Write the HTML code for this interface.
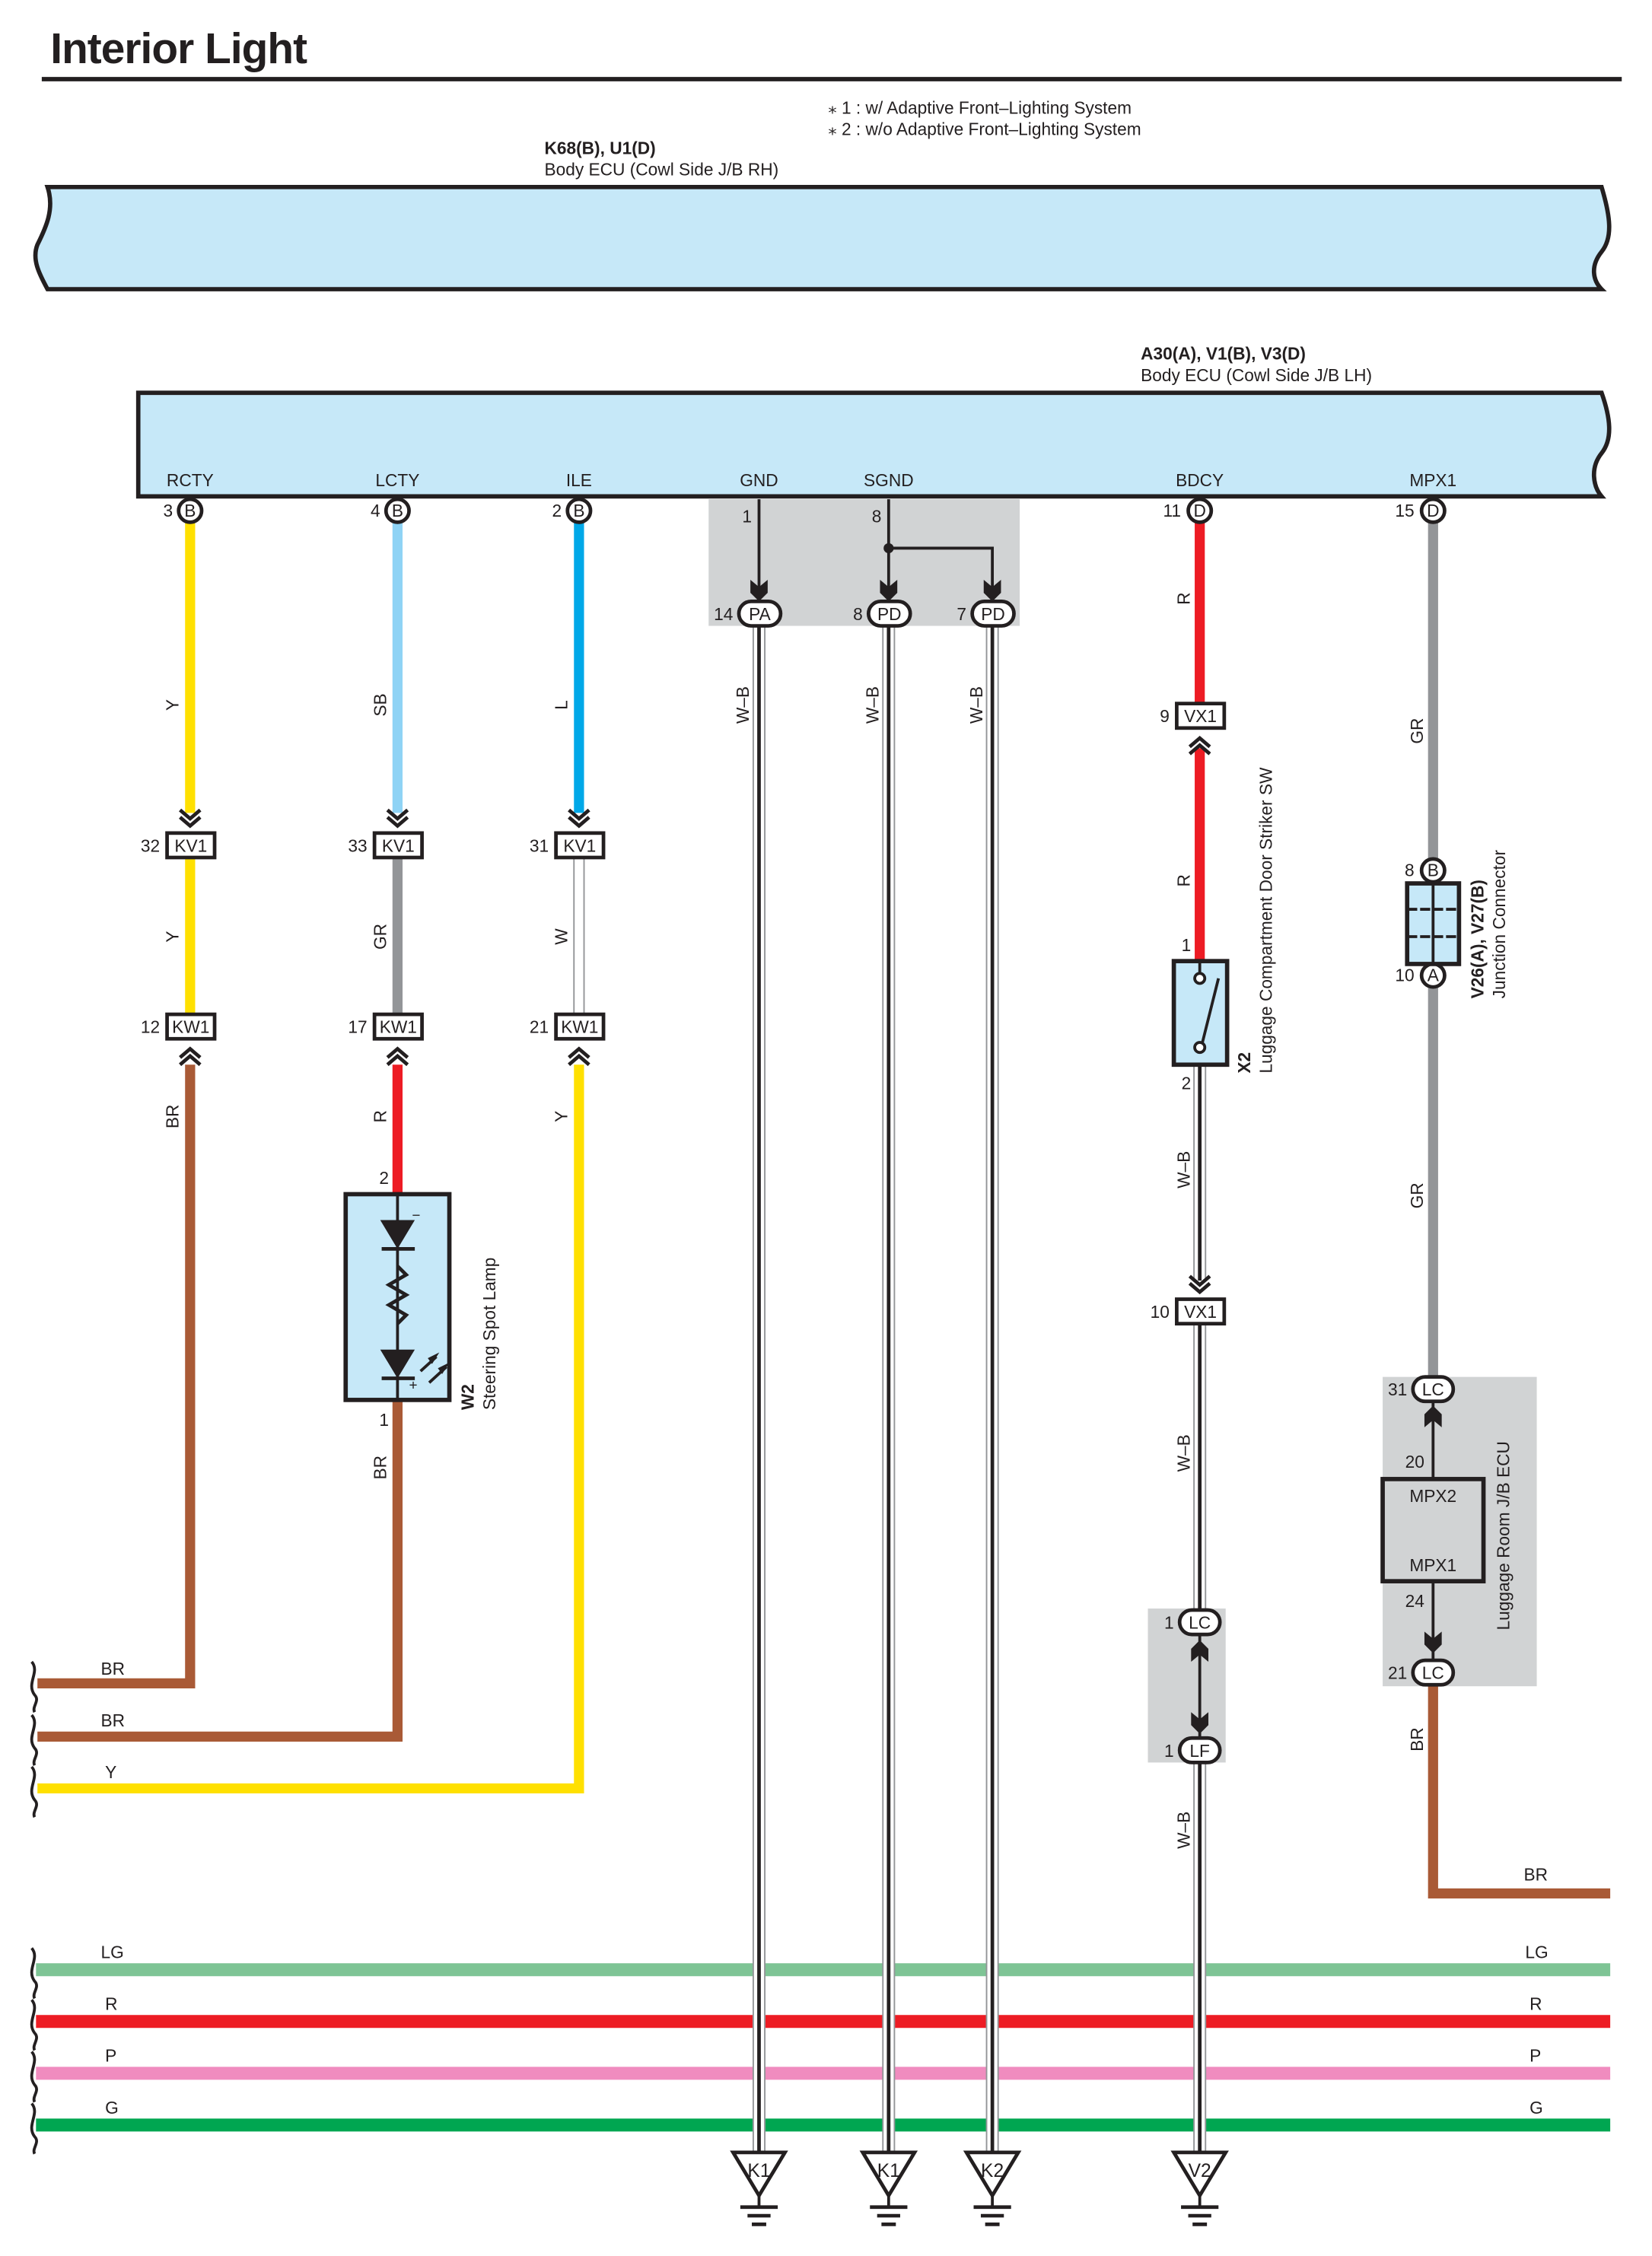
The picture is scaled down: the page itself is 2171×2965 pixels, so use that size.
<!DOCTYPE html>
<html><head><meta charset="utf-8"><style>
html,body{margin:0;padding:0;background:#fff}
svg{display:block}
text{font-family:"Liberation Sans",sans-serif;fill:#231f20}
</style></head><body>
<svg width="2171" height="2965" viewBox="0 0 1147 1568" preserveAspectRatio="none" xmlns="http://www.w3.org/2000/svg">
<defs>
<g id="chd"><polyline points="-7,-9 0,-3 7,-9" fill="none" stroke="#231f20" stroke-width="2.5"/><polyline points="-7,-4 0,2 7,-4" fill="none" stroke="#231f20" stroke-width="2.5"/></g>
<g id="chu"><polyline points="-7,9 0,3 7,9" fill="none" stroke="#231f20" stroke-width="2.5"/><polyline points="-7,4 0,-2 7,4" fill="none" stroke="#231f20" stroke-width="2.5"/></g>
<path id="fad" d="M-6,-9 L0,-4 L6,-9 L6,0 L0,6 L-6,0Z" fill="#231f20"/>
<path id="fau" d="M-6,9 L0,4 L6,9 L6,0 L0,-6 L-6,0Z" fill="#231f20"/>
<g id="gnd"><path d="M-18,0 L18,0 L0,30Z" fill="#fff" stroke="#231f20" stroke-width="2.5"/><line x1="0" y1="30" x2="0" y2="38" stroke="#231f20" stroke-width="2"/><line x1="-13" y1="38" x2="13" y2="38" stroke="#231f20" stroke-width="2.5"/><line x1="-8" y1="44" x2="8" y2="44" stroke="#231f20" stroke-width="2.5"/><line x1="-5" y1="50" x2="5" y2="50" stroke="#231f20" stroke-width="2.5"/></g>
</defs>

<text x="35" y="44" font-size="30" font-weight="bold" letter-spacing="-0.5">Interior Light</text>
<line x1="29" y1="55" x2="1126" y2="55" stroke="#231f20" stroke-width="3"/>
<text x="575" y="79" font-size="12">⁎ 1 : w/ Adaptive Front–Lighting System</text>
<text x="575" y="94" font-size="12">⁎ 2 : w/o Adaptive Front–Lighting System</text>
<text x="378" y="107" font-size="12" font-weight="bold">K68(B), U1(D)</text>
<text x="378" y="122" font-size="12">Body ECU (Cowl Side J/B RH)</text>

<path d="M33,130 L1112,130 C1118,150 1120,165 1112,175 C1104,185 1106,195 1112,201 L33,201 C27,190 22,180 26,170 C32,158 38,145 33,130Z" fill="#c6e8f8" stroke="#231f20" stroke-width="3"/>

<text x="792" y="250" font-size="12" font-weight="bold">A30(A), V1(B), V3(D)</text>
<text x="792" y="265" font-size="12">Body ECU (Cowl Side J/B LH)</text>
<path d="M96,273 L1112,273 C1118,290 1120,305 1112,315 C1104,325 1106,338 1112,345 L96,345Z" fill="#c6e8f8" stroke="#231f20" stroke-width="3"/>
<g font-size="12" text-anchor="middle">
<text x="132" y="338">RCTY</text><text x="276" y="338">LCTY</text><text x="402" y="338">ILE</text>
<text x="527" y="338">GND</text><text x="617" y="338">SGND</text><text x="833" y="338">BDCY</text><text x="995" y="338">MPX1</text>
</g>

<rect x="492" y="347" width="216" height="88" fill="#d1d3d4"/>
<rect x="797" y="1118" width="54" height="107" fill="#d1d3d4"/>
<rect x="960" y="957" width="107" height="215" fill="#d1d3d4"/>

<g stroke-width="7" fill="none">
<line x1="132" y1="363" x2="132" y2="565" stroke="#ffe000"/>
<line x1="132" y1="596" x2="132" y2="705" stroke="#ffe000"/>
<polyline points="132,740 132,1170 26,1170" stroke="#a95a36"/>
<line x1="276" y1="363" x2="276" y2="565" stroke="#8fd3f5"/>
<line x1="276" y1="596" x2="276" y2="705" stroke="#939598"/>
<line x1="276" y1="740" x2="276" y2="830" stroke="#ed1c24"/>
<polyline points="276,973 276,1207 26,1207" stroke="#a95a36"/>
<line x1="402" y1="363" x2="402" y2="565" stroke="#00a8e8"/>
<polyline points="402,740 402,1243 26,1243" stroke="#ffe000"/>
<line x1="833" y1="363" x2="833" y2="488" stroke="#ed1c24"/>
<line x1="833" y1="520" x2="833" y2="668" stroke="#ed1c24"/>
<line x1="995" y1="363" x2="995" y2="598" stroke="#939598"/>
<line x1="995" y1="686" x2="995" y2="957" stroke="#939598"/>
<polyline points="995,1170 995,1316 1118,1316" stroke="#a95a36"/>
</g>
<rect x="398.5" y="596" width="7" height="109" fill="#fff" stroke="#939598" stroke-width="1"/>

<g stroke-width="9">
<line x1="25" y1="1369" x2="1118" y2="1369" stroke="#7ec495"/>
<line x1="25" y1="1405" x2="1118" y2="1405" stroke="#ed1c24"/>
<line x1="25" y1="1441" x2="1118" y2="1441" stroke="#f08cbf"/>
<line x1="25" y1="1477" x2="1118" y2="1477" stroke="#00a651"/>
</g>
<g fill="none" stroke="#231f20" stroke-width="2">
<path d="M22,1155 C28,1162 18,1170 24,1178 C28,1182 22,1186 24,1190"/>
<path d="M22,1192 C28,1199 18,1207 24,1215 C28,1219 22,1223 24,1227"/>
<path d="M22,1228 C28,1235 18,1243 24,1251 C28,1255 22,1259 24,1263"/>
<path d="M22,1354 C28,1361 18,1369 24,1377 C28,1381 22,1385 24,1389"/>
<path d="M22,1390 C28,1397 18,1405 24,1413 C28,1417 22,1421 24,1425"/>
<path d="M22,1426 C28,1433 18,1441 24,1449 C28,1453 22,1457 24,1461"/>
<path d="M22,1462 C28,1469 18,1477 24,1485 C28,1489 22,1493 24,1497"/>
</g>
<g font-size="12">
<text x="70" y="1164">BR</text><text x="70" y="1200">BR</text><text x="73" y="1236">Y</text>
<text x="70" y="1361">LG</text><text x="73" y="1397">R</text><text x="73" y="1433">P</text><text x="73" y="1469">G</text>
<text x="1059" y="1361">LG</text><text x="1062" y="1397">R</text><text x="1062" y="1433">P</text><text x="1062" y="1469">G</text>
<text x="1058" y="1307">BR</text>
</g>

<g>
<g stroke="#939598" stroke-width="9"><line x1="527" y1="435" x2="527" y2="1496"/><line x1="617" y1="435" x2="617" y2="1496"/><line x1="689" y1="435" x2="689" y2="1496"/><line x1="833" y1="740" x2="833" y2="890"/><line x1="833" y1="920" x2="833" y2="1118"/><line x1="833" y1="1225" x2="833" y2="1496"/></g>
<g stroke="#fff" stroke-width="7"><line x1="527" y1="435" x2="527" y2="1496"/><line x1="617" y1="435" x2="617" y2="1496"/><line x1="689" y1="435" x2="689" y2="1496"/><line x1="833" y1="740" x2="833" y2="890"/><line x1="833" y1="920" x2="833" y2="1118"/><line x1="833" y1="1225" x2="833" y2="1496"/></g>
<g stroke="#231f20" stroke-width="2.5"><line x1="527" y1="435" x2="527" y2="1496"/><line x1="617" y1="435" x2="617" y2="1496"/><line x1="689" y1="435" x2="689" y2="1496"/><line x1="833" y1="740" x2="833" y2="890"/><line x1="833" y1="920" x2="833" y2="1118"/><line x1="833" y1="1225" x2="833" y2="1496"/></g>
</g>

<g stroke="#231f20" stroke-width="2" fill="none">
<line x1="527" y1="347" x2="527" y2="412"/>
<line x1="617" y1="347" x2="617" y2="412"/>
<polyline points="617,381 689,381 689,412"/>
<line x1="833" y1="1135" x2="833" y2="1208"/>
<line x1="995" y1="973" x2="995" y2="1028"/>
<line x1="995" y1="1100" x2="995" y2="1155"/>
</g>
<circle cx="617" cy="381" r="3.5" fill="#231f20"/>
<use href="#fad" x="527" y="412"/><use href="#fad" x="617" y="412"/><use href="#fad" x="689" y="412"/>
<use href="#fau" x="833" y="1146"/><use href="#fad" x="833" y="1199"/>
<use href="#fau" x="995" y="983"/><use href="#fad" x="995" y="1143"/>

<g fill="#fff" stroke="#231f20" stroke-width="2.5">
<circle cx="132" cy="355" r="8"/><circle cx="276" cy="355" r="8"/><circle cx="402" cy="355" r="8"/><circle cx="833" cy="355" r="8"/><circle cx="995" cy="355" r="8"/>
<circle cx="995" cy="605" r="8"/><circle cx="995" cy="678" r="8"/>
</g>
<g font-size="12" text-anchor="middle">
<text x="132" y="359">B</text><text x="276" y="359">B</text><text x="402" y="359">B</text><text x="833" y="359">D</text><text x="995" y="359">D</text>
<text x="995" y="609">B</text><text x="995" y="682">A</text>
</g>
<g font-size="12" text-anchor="end">
<text x="120" y="359">3</text><text x="264" y="359">4</text><text x="390" y="359">2</text><text x="820" y="359">11</text><text x="982" y="359">15</text>
<text x="522" y="363">1</text><text x="612" y="363">8</text>
<text x="982" y="609">8</text><text x="982" y="682">10</text>
</g>

<g fill="#fff" stroke="#231f20" stroke-width="2.5">
<rect x="513" y="418" width="29" height="17" rx="8.5"/><rect x="603" y="418" width="29" height="17" rx="8.5"/><rect x="675" y="418" width="29" height="17" rx="8.5"/>
<rect x="819" y="1119" width="28" height="17" rx="8.5"/><rect x="819" y="1208" width="28" height="17" rx="8.5"/>
<rect x="981" y="957" width="28" height="17" rx="8.5"/><rect x="981" y="1154" width="28" height="17" rx="8.5"/>
</g>
<g font-size="12" text-anchor="middle">
<text x="527.5" y="431">PA</text><text x="617.5" y="431">PD</text><text x="689.5" y="431">PD</text>
<text x="833" y="1132">LC</text><text x="833" y="1221">LF</text><text x="995" y="970">LC</text><text x="995" y="1167">LC</text>
</g>
<g font-size="12" text-anchor="end">
<text x="509" y="431">14</text><text x="599" y="431">8</text><text x="671" y="431">7</text>
<text x="815" y="1132">1</text><text x="815" y="1221">1</text><text x="977" y="970">31</text><text x="977" y="1167">21</text>
<text x="989" y="1020">20</text><text x="989" y="1117">24</text>
</g>

<g fill="#fff" stroke="#231f20" stroke-width="2.5">
<rect x="116" y="579" width="33" height="17"/><rect x="260" y="579" width="33" height="17"/><rect x="386" y="579" width="33" height="17"/>
<rect x="116" y="705" width="33" height="17"/><rect x="260" y="705" width="33" height="17"/><rect x="386" y="705" width="33" height="17"/>
<rect x="817" y="489" width="33" height="17"/><rect x="817" y="903" width="33" height="17"/>
</g>
<g font-size="12" text-anchor="middle">
<text x="132.5" y="592">KV1</text><text x="276.5" y="592">KV1</text><text x="402.5" y="592">KV1</text>
<text x="132.5" y="718">KW1</text><text x="276.5" y="718">KW1</text><text x="402.5" y="718">KW1</text>
<text x="833.5" y="502">VX1</text><text x="833.5" y="916">VX1</text>
</g>
<g font-size="12" text-anchor="end">
<text x="111" y="592">32</text><text x="255" y="592">33</text><text x="381" y="592">31</text>
<text x="111" y="718">12</text><text x="255" y="718">17</text><text x="381" y="718">21</text>
<text x="812" y="502">9</text><text x="812" y="916">10</text>
</g>
<use href="#chd" x="132" y="572"/><use href="#chd" x="276" y="572"/><use href="#chd" x="402" y="572"/>
<use href="#chu" x="132" y="731"/><use href="#chu" x="276" y="731"/><use href="#chu" x="402" y="731"/>
<use href="#chu" x="833" y="515"/><use href="#chd" x="833" y="896"/>

<rect x="240" y="830" width="72" height="143" fill="#c6e8f8" stroke="#231f20" stroke-width="3"/>
<g stroke="#231f20" stroke-width="2" fill="none">
<line x1="276" y1="830" x2="276" y2="973"/>
<polyline points="276,880 282,886 270,893 282,900 270,907 282,914 276,920" stroke-width="2.5"/>
<line x1="265" y1="868" x2="288" y2="868" stroke-width="2.5"/>
<line x1="265" y1="958" x2="288" y2="958" stroke-width="2.5"/>
<line x1="292" y1="953" x2="303" y2="943"/><line x1="298" y1="961" x2="310" y2="950"/>
</g>
<path d="M264,848 L288,848 L276,868Z" fill="#231f20"/>
<path d="M264,938 L288,938 L276,958Z" fill="#231f20"/>
<path d="M305,940 L300,948 L297,944Z" fill="#231f20"/>
<path d="M312,947 L307,955 L304,951Z" fill="#231f20"/>
<text x="286" y="848" font-size="10">−</text><text x="284" y="966" font-size="10">+</text>
<text x="270" y="823" font-size="12" text-anchor="end">2</text><text x="270" y="991" font-size="12" text-anchor="end">1</text>
<text transform="translate(329,980) rotate(-90)" font-size="12" font-weight="bold">W2</text>
<text transform="translate(344,980) rotate(-90)" font-size="12">Steering Spot Lamp</text>

<rect x="815" y="668" width="37" height="72" fill="#c6e8f8" stroke="#231f20" stroke-width="3"/>
<g stroke="#231f20" stroke-width="2" fill="none">
<line x1="833" y1="668" x2="833" y2="676"/><circle cx="833" cy="680" r="3.5" fill="#fff"/>
<line x1="833" y1="732" x2="846" y2="680"/><circle cx="833" cy="728" r="3.5" fill="#fff"/>
</g>
<text x="827" y="661" font-size="12" text-anchor="end">1</text><text x="827" y="757" font-size="12" text-anchor="end">2</text>
<text transform="translate(868,746) rotate(-90)" font-size="12" font-weight="bold">X2</text>
<text transform="translate(883,746) rotate(-90)" font-size="12">Luggage Compartment Door Striker SW</text>

<rect x="977" y="614" width="36" height="56" fill="#c6e8f8" stroke="#231f20" stroke-width="3"/>
<line x1="995" y1="614" x2="995" y2="670" stroke="#231f20" stroke-width="2"/>
<line x1="977" y1="632" x2="1013" y2="632" stroke="#231f20" stroke-width="2" stroke-dasharray="7,2"/>
<line x1="977" y1="651" x2="1013" y2="651" stroke="#231f20" stroke-width="2" stroke-dasharray="7,2"/>
<text transform="translate(1030,694) rotate(-90)" font-size="12" font-weight="bold">V26(A), V27(B)</text>
<text transform="translate(1045,694) rotate(-90)" font-size="12">Junction Connector</text>

<rect x="960" y="1028" width="70" height="71" fill="#d1d3d4" stroke="#231f20" stroke-width="3"/>
<text x="995" y="1044" font-size="12" text-anchor="middle">MPX2</text>
<text x="995" y="1092" font-size="12" text-anchor="middle">MPX1</text>
<text transform="translate(1048,1133) rotate(-90)" font-size="12">Luggage Room J/B ECU</text>

<g font-size="12" text-anchor="middle">
<text transform="translate(124,490) rotate(-90)">Y</text>
<text transform="translate(268,490) rotate(-90)">SB</text>
<text transform="translate(394,490) rotate(-90)">L</text>
<text transform="translate(520,490) rotate(-90)">W–B</text>
<text transform="translate(610,490) rotate(-90)">W–B</text>
<text transform="translate(682,490) rotate(-90)">W–B</text>
<text transform="translate(826,416) rotate(-90)">R</text>
<text transform="translate(988,508) rotate(-90)">GR</text>
<text transform="translate(124,651) rotate(-90)">Y</text>
<text transform="translate(268,651) rotate(-90)">GR</text>
<text transform="translate(394,651) rotate(-90)">W</text>
<text transform="translate(826,612) rotate(-90)">R</text>
<text transform="translate(124,776) rotate(-90)">BR</text>
<text transform="translate(268,776) rotate(-90)">R</text>
<text transform="translate(394,776) rotate(-90)">Y</text>
<text transform="translate(826,813) rotate(-90)">W–B</text>
<text transform="translate(988,831) rotate(-90)">GR</text>
<text transform="translate(826,1010) rotate(-90)">W–B</text>
<text transform="translate(268,1020) rotate(-90)">BR</text>
<text transform="translate(826,1272) rotate(-90)">W–B</text>
<text transform="translate(988,1209) rotate(-90)">BR</text>
</g>

<use href="#gnd" x="527" y="1496"/><use href="#gnd" x="617" y="1496"/><use href="#gnd" x="689" y="1496"/><use href="#gnd" x="833" y="1496"/>
<g font-size="13" text-anchor="middle">
<text x="527" y="1513">K1</text><text x="617" y="1513">K1</text><text x="689" y="1513">K2</text><text x="833" y="1513">V2</text>
</g>
</svg>
</body></html>
